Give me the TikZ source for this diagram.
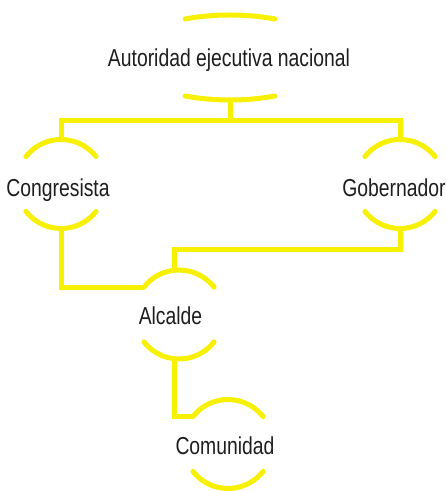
\documentclass[tikz,border=0pt]{standalone}
\usepackage{fontspec}
\setmainfont{Liberation Sans}[FakeStretch=0.79]
\definecolor{orgyellow}{RGB}{247,240,0}
\definecolor{orgtext}{RGB}{30,30,30}
\usetikzlibrary{calc}

\begin{document}
\begin{tikzpicture}[
  x=1bp, y=1bp,
  every node/.style={font=\fontsize{24.5bp}{29bp}\selectfont,text=orgtext,inner sep=0pt},
  lbl/.style={anchor=base},
  ring/.style={line width=5bp,orgyellow,line cap=round},
  wire/.style={line width=5bp,orgyellow},
]
  \useasboundingbox (0,0) rectangle (446,491);

  % ring centres
  \coordinate (autC) at (230,433.5);
  \coordinate (congC) at (61,307);
  \coordinate (gobC) at (400,307);
  \coordinate (alcC) at (179,176.5);
  \coordinate (comC) at (228,47);

  % labels
  \node[lbl] (aut) at (229,424) {Autoridad ejecutiva nacional};
  \node[lbl] (cong) at (58,294) {Congresista};
  \node[lbl] (gob) at (394,294) {Gobernador};
  \node[lbl] (alc) at (170.5,166) {Alcalde};
  \node[lbl] (com) at (225,36) {Comunidad};

  % rings
  \draw[ring] (autC) ++(65:106 and 42.5) arc[start angle=65,end angle=115,x radius=106,y radius=42.5];
  \draw[ring] (autC) ++(245:106 and 42.5) arc[start angle=245,end angle=295,x radius=106,y radius=42.5];
  \foreach \c in {congC,gobC,alcC,comC} {
    \draw[ring] (\c) ++(38:44.5) arc[start angle=38,end angle=142,radius=44.5];
    \draw[ring] (\c) ++(218:44.5) arc[start angle=218,end angle=322,radius=44.5];
  }

  % connector ends
  \coordinate (autB) at (230,391);
  \coordinate (bus) at (230,370);
  \coordinate (congT) at (61,351.5);
  \coordinate (congB) at (61,262.5);
  \coordinate (gobT) at (400,351.5);
  \coordinate (gobB) at (400,262.5);
  \coordinate (alcL) at (143.9,203.9);
  \coordinate (alcT) at (174,220.7);
  \coordinate (alcB) at (174,132.3);
  \coordinate (comL) at (192.9,74.4);

  % connectors
  \draw[wire] (autB) -- (bus);
  \draw[wire] (congT) |- (bus) -| (gobT);
  \draw[wire] (congB) |- (alcL);
  \draw[wire] (gobB) -- ++(0,-21) -| (alcT);
  \draw[wire] (alcB) |- (comL);
\end{tikzpicture}
\end{document}
